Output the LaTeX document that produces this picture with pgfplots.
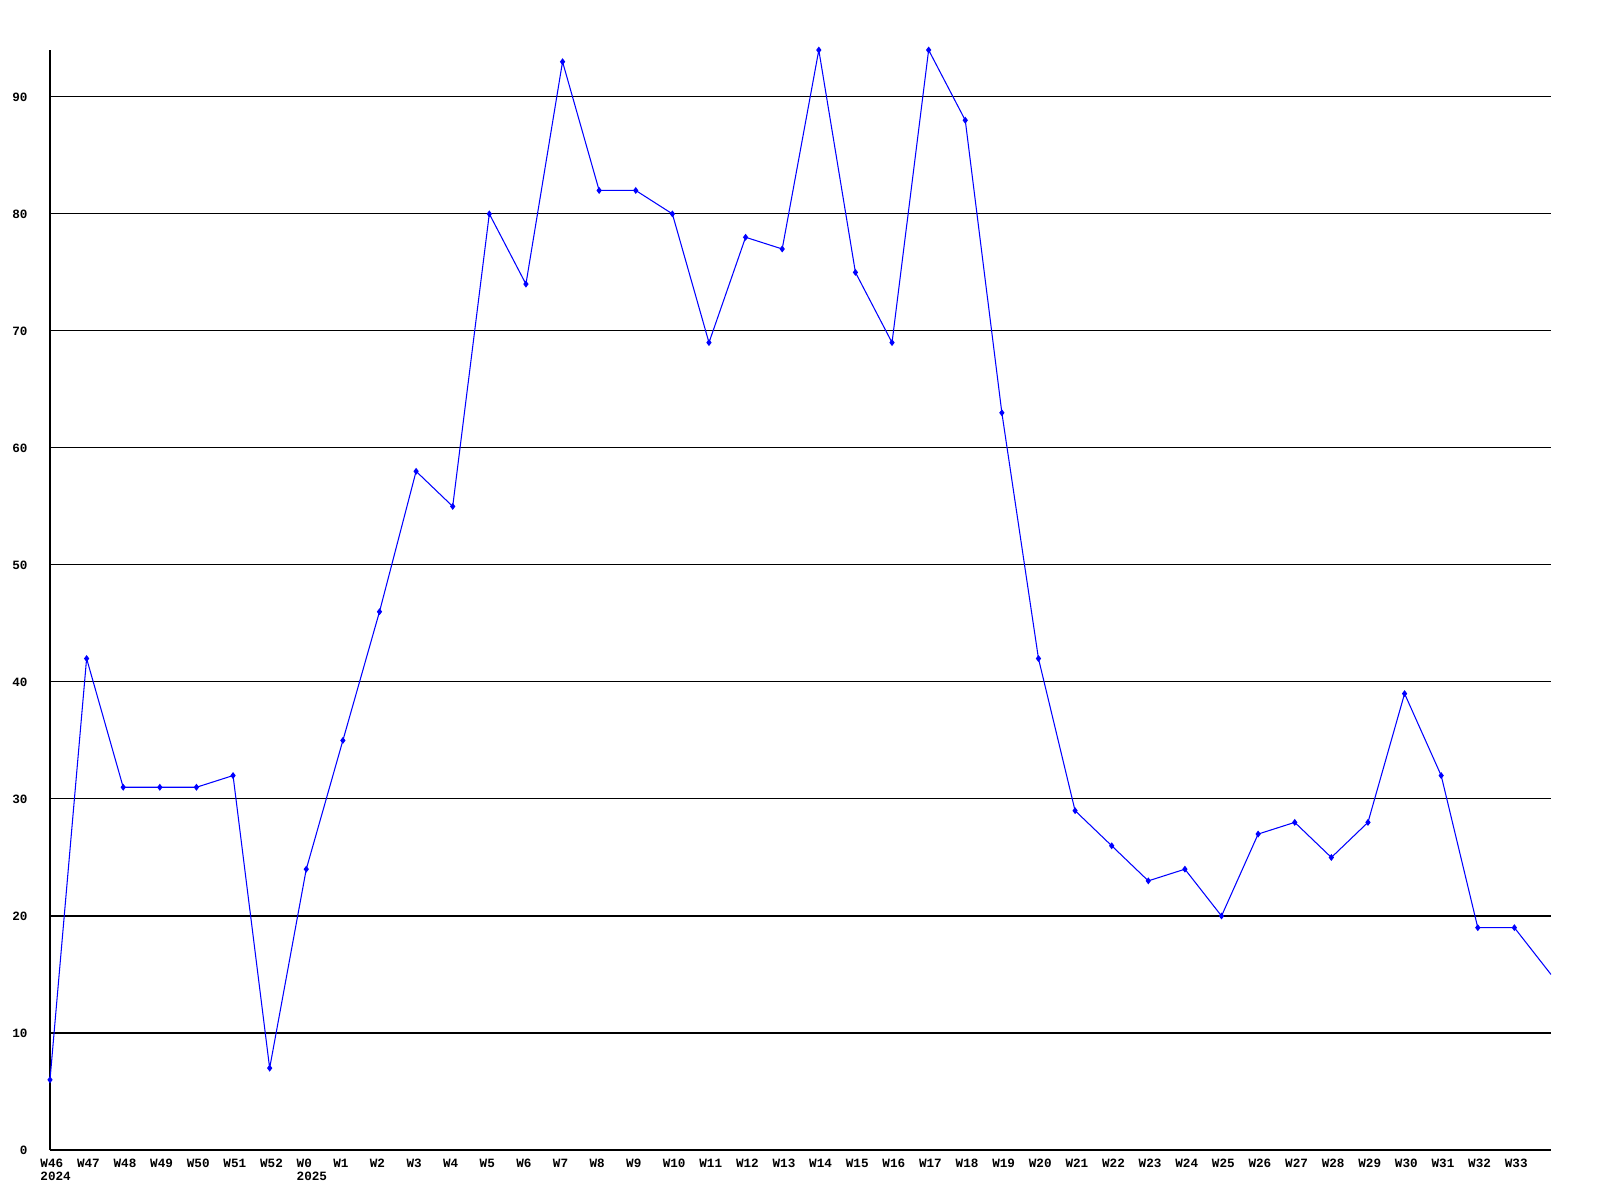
\documentclass[border=0pt]{standalone}
\usepackage{fontspec}
\setmainfont{Liberation Mono}
\usepackage{pgfplots}
\pgfplotsset{compat=1.18}
\begin{document}
\begin{tikzpicture}
\useasboundingbox (-0.5cm,-0.5cm) rectangle (15.5cm,11.5cm);
\begin{axis}[
  at={(0,0)}, anchor=south west,
  scale only axis, width=15.01cm, height=11cm,
  xmin=0, xmax=41, ymin=0, ymax=94,
  axis x line=bottom, axis y line=left,
  axis line style={-, line width=0.35pt},
  ymajorgrids, grid style={black, line width=0.3pt},
  ytick={0,10,...,90},
  xtick={0,...,40},
  xticklabels={{W46\\2024},W47,W48,W49,W50,W51,W52,{W0\\2025},W1,W2,W3,W4,W5,W6,W7,W8,W9,W10,W11,W12,W13,W14,W15,W16,W17,W18,W19,W20,W21,W22,W23,W24,W25,W26,W27,W28,W29,W30,W31,W32,W33},
  major tick length=0pt,
  tick label style={font=\fontsize{3.6}{3.6}\selectfont\bfseries},
  x tick label style={anchor=north west, align=left, xshift=-0.22cm, yshift=0.03cm},
  y tick label style={anchor=east, xshift=-0.1cm},
  /pgf/number format/assume math mode=true,
  clip=true,
]
\addplot[color={rgb,255:red,0;green,0;blue,255}, line width=0.3pt, mark=diamond*, mark size=0.75pt, mark indices={1,...,41}] coordinates {
(0,6)(1,42)(2,31)(3,31)(4,31)(5,32)(6,7)(7,24)(8,35)(9,46)(10,58)(11,55)(12,80)(13,74)(14,93)(15,82)(16,82)(17,80)(18,69)(19,78)(20,77)(21,94)(22,75)(23,69)(24,94)(25,88)(26,63)(27,42)(28,29)(29,26)(30,23)(31,24)(32,20)(33,27)(34,28)(35,25)(36,28)(37,39)(38,32)(39,19)(40,19)(41,15)
};
\end{axis}
\end{tikzpicture}
\end{document}
